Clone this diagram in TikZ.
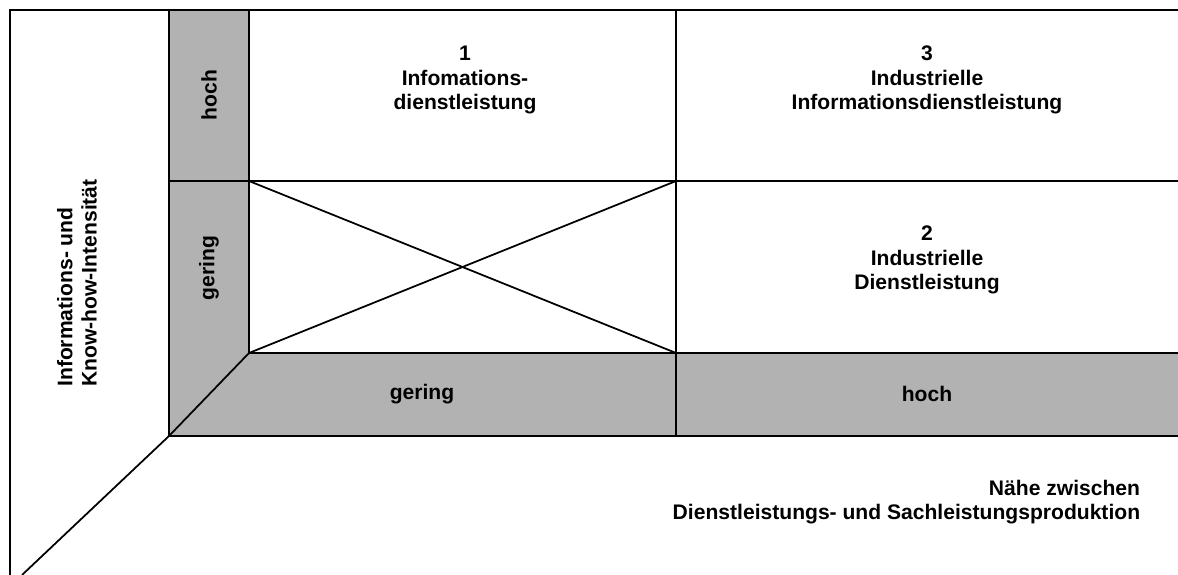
\documentclass[tikz,border=0pt]{standalone}
\usepackage{fontspec}
\setmainfont{Liberation Sans}
\usetikzlibrary{positioning}

\begin{document}
\begin{tikzpicture}[x=0.02cm, y=-0.02cm, line width=1pt,
    lbl/.style={font=\bfseries\fontsize{12}{13.8}\selectfont, align=center, inner sep=0pt},
    band/.style={fill=gray!60, draw=none}]
  \useasboundingbox (0,0) rectangle (1178,575);
  % corner points of the grid
  \coordinate (top)   at (10,10);
  \coordinate (foot)  at (10,575);
  \coordinate (tr)    at (1178,10);
  \coordinate (c0)    at (169,436);
  \coordinate (c1)    at (249,353);
  \coordinate (tip)   at (22,575);
  % grey bands
  \fill[band] (169,10) rectangle (249,436);
  \fill[band] (c0) -- (c1) -- (1178,353) -- (1178,436) -- cycle;
  % frame and grid
  \draw (foot) -- (top) -- (tr);
  \draw (169,10) -- (c0) -- (1178,436);
  \draw (249,10) -- (c1) -- (1178,353);
  \draw (169,181) -- (1178,181);
  \draw (676,10) -- (676,436);
  \draw (c1) -- (c0) -- (tip);
  % empty field
  \draw (249,181) -- (676,353);
  \draw (676,181) -- (c1);

  \node[lbl] (feld1) at (465,80)  {1\\Infomations-\\dienstleistung};
  \node[lbl] (feld3) at (927,80)  {3\\Industrielle\\Informationsdienstleistung};
  \node[lbl] (feld2) at (927,260) {2\\Industrielle\\Dienstleistung};
  \node[lbl] (xlo) at (422,394) {gering};
  \node[lbl] (xhi) at (927,394) {hoch};
  \node[lbl, rotate=90] (yhi) at (209,95)  {hoch};
  \node[lbl, rotate=90] (ylo) at (209,268) {gering};
  \node[lbl, rotate=90, align=left] (yaxis) at (77,283) {Informations- und\\Know-how-Intensität};
  \node[lbl, align=right, anchor=east] (xaxis) at (1141,502) {Nähe zwischen\\Dienstleistungs- und Sachleistungsproduktion};
\end{tikzpicture}
\end{document}
